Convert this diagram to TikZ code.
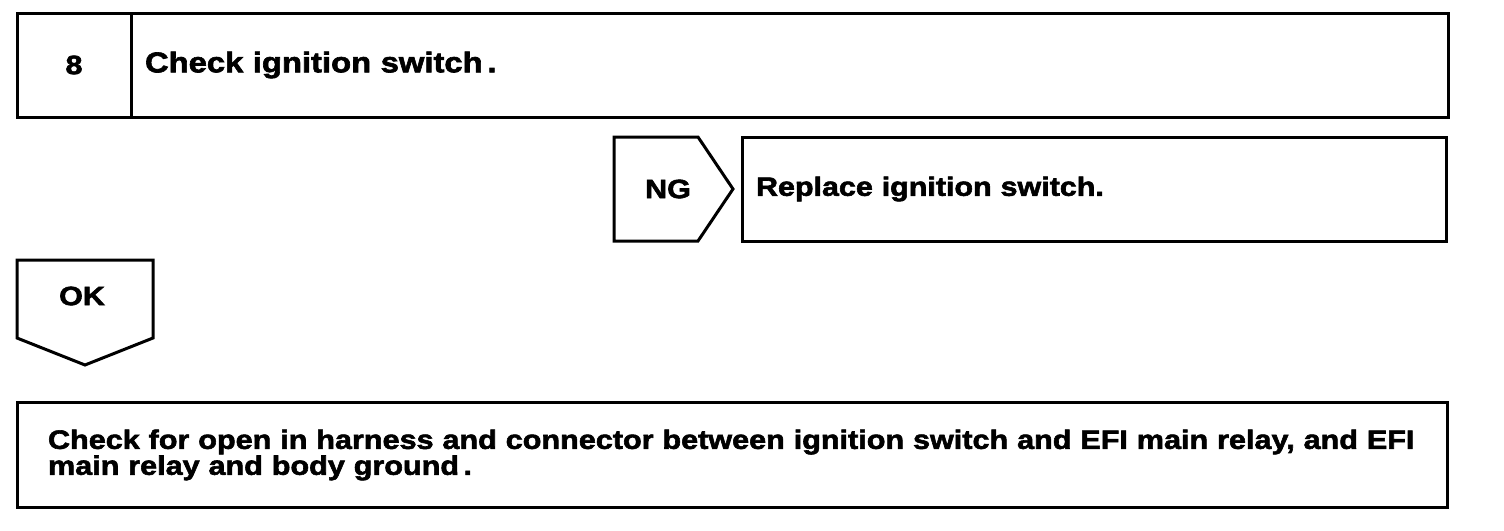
\documentclass[tikz,border=0pt]{standalone}
\usepackage{fontspec}
\setmainfont{Liberation Sans}
\newfontfamily\chartfont[FakeStretch=1.15, FakeBold=2.2]{Liberation Sans}
\usetikzlibrary{positioning}

\begin{document}
\begin{tikzpicture}[x=1pt, y=-1pt,
  every node/.style={font=\chartfont\bfseries\fontsize{26.5}{30}\selectfont},
  stepbox/.style={draw, line width=3pt, inner sep=0pt, outer sep=0pt, minimum height=104pt},
  textbox/.style={stepbox, inner xsep=14pt, align=left, anchor=west},
  tag/.style={draw, line width=3pt, line join=miter},
  notebox/.style={draw, line width=3pt, inner xsep=31pt, inner ysep=0pt, outer sep=0pt,
    minimum height=105pt, align=left,
    font=\chartfont\bfseries\fontsize{26.6}{23.5}\selectfont}
]
\path[fill=white] (0,0) rectangle (1504,530);
\node[stepbox, minimum width=114pt] (num) at (74,65) {8};
\node[textbox, text width=1289pt, right=0pt of num,
  font=\chartfont\bfseries\fontsize{28.5}{32}\selectfont] (title) {Check ignition switch\,.};
\draw[tag] (614,137) -- (698,137) -- (733,189) -- (698,241) -- (614,241) -- cycle;
\node (ng) at (668,189) {NG};
\node[textbox, text width=676pt] (replace) at (742,189) {Replace ignition switch.};
\draw[tag] (17,260) -- (153,260) -- (153,338) -- (85,365) -- (17,338) -- cycle;
\node (ok) at (82,296) {OK};
\node[notebox, text width=1368pt] (openchk) at (732,455)
  {\mbox{Check for open in harness and connector between ignition switch and EFI main relay, and EFI}\\
   main relay and body ground\,.};
\end{tikzpicture}
\end{document}
